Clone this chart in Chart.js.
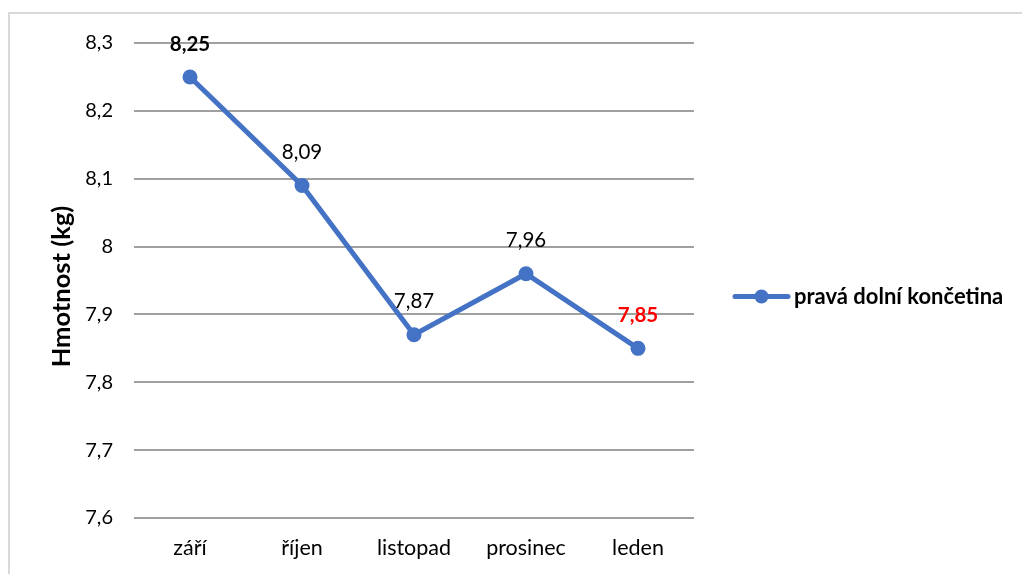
<!DOCTYPE html>
<html lang="cs">
<head>
<meta charset="utf-8">
<title>Hmotnost – pravá dolní končetina</title>
<script src="https://cdn.jsdelivr.net/npm/chart.js@4/dist/chart.umd.min.js"></script>
<style>
  html, body { margin: 0; padding: 0; background: #fff; }
  #wrap { position: relative; width: 1022px; height: 574px; }
</style>
</head>
<body>
<div id="wrap"><canvas id="chart" width="1022" height="574"></canvas></div>
<script>
// Měsíce a naměřené hodnoty
const months = ['září', 'říjen', 'listopad', 'prosinec', 'leden'];
const weights = [8.25, 8.09, 7.87, 7.96, 7.85];
const seriesName = 'pravá dolní končetina';
const axisTitle = 'Hmotnost (kg)';
const yTickValues = [7.6, 7.7, 7.8, 7.9, 8.0, 8.1, 8.2, 8.3];
const yTickLabels = ['7,6', '7,7', '7,8', '7,9', '8', '8,1', '8,2', '8,3'];
// Styl popisků jednotlivých bodů
const labelColors = ['#000000', '#000000', '#000000', '#000000', '#ff0000'];
const labelBold = [true, false, false, false, true];

const FONT = "Lato, 'Open Sans', 'Liberation Sans', sans-serif";
const BLUE = '#4472C4';

const fmt = v => v.toFixed(2).replace('.', ',');

// Rámeček, popisek osy Y, legenda a hodnoty u bodů
const decorations = {
  id: 'decorations',
  beforeDraw(chart) {
    const ctx = chart.ctx;
    ctx.save();
    ctx.fillStyle = '#ffffff';
    ctx.fillRect(0, 0, chart.width, chart.height);
    ctx.strokeStyle = '#d9d9d9';
    ctx.lineWidth = 2;
    ctx.beginPath();
    ctx.moveTo(9, chart.height);
    ctx.lineTo(9, 13);
    ctx.lineTo(chart.width, 13);
    ctx.stroke();
    ctx.restore();
  },
  afterDraw(chart) {
    const ctx = chart.ctx;
    const area = chart.chartArea;
    ctx.save();

    // popisek osy Y
    ctx.translate(62, (area.top + area.bottom) / 2 + 6);
    ctx.rotate(-Math.PI / 2);
    ctx.font = 'bold 25.5px ' + FONT;
    ctx.fillStyle = '#000';
    ctx.textAlign = 'center';
    ctx.textBaseline = 'middle';
    ctx.fillText(axisTitle, 0, 0);
    ctx.restore();

    // legenda
    ctx.save();
    const ly = (area.top + area.bottom) / 2 + 16;
    ctx.strokeStyle = BLUE;
    ctx.lineWidth = 5;
    ctx.lineCap = 'round';
    ctx.beginPath();
    ctx.moveTo(735, ly);
    ctx.lineTo(788, ly);
    ctx.stroke();
    ctx.fillStyle = BLUE;
    ctx.beginPath();
    ctx.arc(761.5, ly, 7, 0, Math.PI * 2);
    ctx.fill();
    ctx.font = 'bold 22px ' + FONT;
    ctx.fillStyle = '#000';
    ctx.textAlign = 'left';
    ctx.textBaseline = 'middle';
    ctx.fillText(seriesName, 794, ly);
    ctx.restore();

    // hodnoty nad body
    ctx.save();
    const meta = chart.getDatasetMeta(0);
    ctx.textAlign = 'center';
    ctx.textBaseline = 'middle';
    meta.data.forEach((pt, i) => {
      ctx.font = (labelBold[i] ? 'bold ' : '') + '20.5px ' + FONT;
      ctx.fillStyle = labelColors[i];
      ctx.fillText(fmt(weights[i]), pt.x, pt.y - 33);
    });
    ctx.restore();
  }
};

new Chart(document.getElementById('chart'), {
  type: 'line',
  data: {
    labels: months,
    datasets: [{
      label: seriesName,
      data: weights,
      borderColor: BLUE,
      backgroundColor: BLUE,
      borderWidth: 5,
      pointRadius: 7.5,
      pointHoverRadius: 7.5,
      pointBackgroundColor: BLUE,
      pointBorderWidth: 0,
      tension: 0,
      clip: false
    }]
  },
  options: {
    responsive: false,
    animation: false,
    events: [],
    layout: { padding: { top: 43, right: 328, bottom: 0, left: 0 } },
    plugins: {
      legend: { display: false },
      tooltip: { enabled: false }
    },
    scales: {
      x: {
        offset: true,
        grid: { display: false, drawTicks: false },
        border: { display: false },
        ticks: {
          color: '#000',
          padding: 17,
          font: { family: FONT, size: 21.5 }
        },
        afterFit(scale) { scale.height = 56; }
      },
      y: {
        min: 7.6,
        max: 8.3,
        afterBuildTicks(scale) {
          scale.ticks = yTickValues.map(v => ({ value: v }));
        },
        grid: { color: '#a0a0a0', lineWidth: 2, drawTicks: false },
        border: { display: false },
        ticks: {
          color: '#000',
          padding: 21,
          font: { family: FONT, size: 20 },
          callback(value, index) { return yTickLabels[index]; }
        },
        afterFit(scale) { scale.width = 134; }
      }
    }
  },
  plugins: [decorations]
});
</script>
</body>
</html>
